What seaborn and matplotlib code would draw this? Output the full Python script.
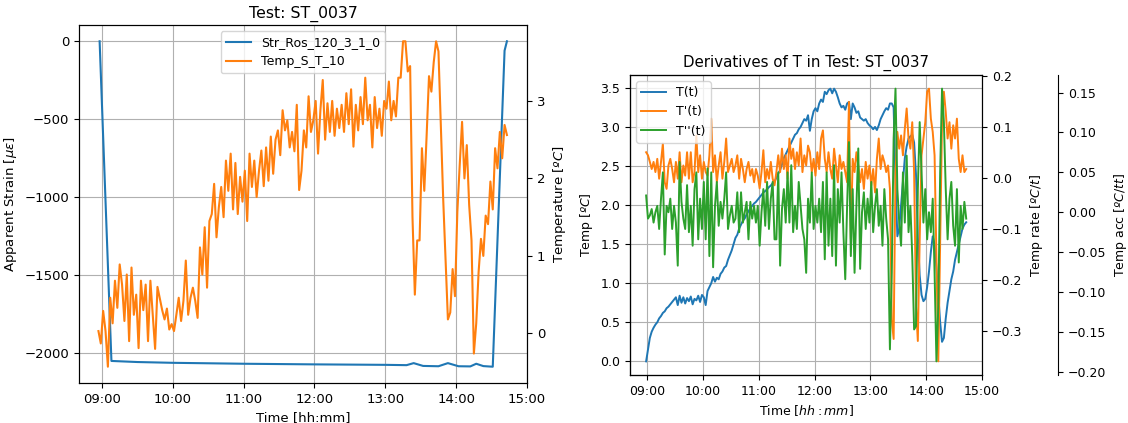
import numpy as np
import pandas as pd
import matplotlib
matplotlib.use("Agg")
import matplotlib.pyplot as plt
import matplotlib.dates as mdates
import seaborn as sns

DAY = "2021-06-01 "

# ---------------- Left chart data ----------------
temp_start = "08:57"          # 2-minute sampling
temp_s_t_10 = [
    0.03, -0.13, 0.29, 0.03, -0.43, 0.46, 0.13,
    0.68, 0.33, 0.89, 0.63, 0.16, 0.76, -0.10, 0.85, 0.24, 0.50,
    -0.19, 0.68, 0.30, 0.63, -0.10, 0.68, 0.24, -0.20, 0.60, 0.45, 0.30, 0.18, 0.32, 0.05, 0.12,
    0.03, 0.24, 0.46, 0.16, 0.42, 0.94, 0.24, 0.46, 0.59, 0.42, 0.20,
    1.11, 0.76, 1.37, 0.59, 1.45, 1.54, 1.93, 1.24, 1.63,
    1.89, 1.50, 2.23, 1.84, 2.32, 1.60, 2.20, 1.54, 2.02, 1.70,
    2.10, 1.45, 2.32, 1.89, 2.23, 1.76, 2.10, 2.36, 1.90, 2.40, 1.97, 2.54, 2.06, 2.50, 2.62, 2.30,
    2.88, 2.62, 2.75, 2.40, 2.60, 2.35, 2.95, 1.85, 2.10, 2.62, 2.40, 3.06, 2.60, 2.75,
    3.00, 2.32, 2.88, 3.27, 2.50, 2.97, 2.60, 3.00, 2.55, 2.90, 2.65, 2.95, 2.60, 3.10, 2.70, 3.15,
    2.41, 2.95, 2.62, 3.05, 2.70, 3.30, 2.75, 2.95, 2.40, 3.05, 2.65, 2.90, 2.55, 3.00,
    2.90, 3.25, 2.75, 3.00, 2.80, 3.30,
    3.30, 3.77, 3.77, 3.38, 3.45, 1.50, 0.50, 1.20, 1.20, 2.39,
    1.84, 2.56, 3.32, 3.12, 3.50, 3.77, 3.64, 2.69, 1.74, 0.96,
    0.18, 0.27, 0.83, 0.48, 1.57, 2.17, 2.73, 2.00, 2.43, 1.66,
    1.20, -0.26, 0.13, 0.79, 1.22, 1.00, 1.52, 1.41, 1.96, 1.60,
    2.39, 2.13, 2.60, 2.26, 2.69, 2.56,
]

strain_times = ["08:58", "09:08", "09:30", "10:00", "11:00", "12:00", "13:00",
                "13:18", "13:24", "13:32", "13:45", "13:53", "14:02", "14:12",
                "14:17", "14:23", "14:31", "14:41", "14:43"]
strain_values = [0, -2050, -2057, -2062, -2068, -2072, -2075,
                 -2077, -2064, -2082, -2084, -2064, -2084, -2085,
                 -2068, -2083, -2087, -60, 0]

# ---------------- Right chart data ----------------
deriv_start = "08:59"         # 2-minute sampling
T_values = [
    0.00, 0.15, 0.30, 0.38, 0.43, 0.47, 0.50, 0.55, 0.58, 0.62, 0.64, 0.68, 0.70, 0.73, 0.76, 0.79,
    0.82, 0.72, 0.84, 0.75, 0.82, 0.74, 0.81, 0.77, 0.83, 0.73, 0.80, 0.78, 0.84, 0.76, 0.85,
    0.82, 0.72, 0.90, 0.95, 1.00, 1.08, 1.02, 1.07, 1.05, 1.12, 1.15, 1.20, 1.22, 1.30, 1.36,
    1.42, 1.50, 1.58, 1.62, 1.70, 1.75, 1.80, 1.83, 1.88, 1.92, 1.96, 1.99, 2.02, 2.04, 2.07,
    2.10, 2.13, 2.16, 2.18, 2.20, 2.23, 2.25, 2.28, 2.30, 2.35, 2.40, 2.45, 2.52, 2.60, 2.65,
    2.70, 2.75, 2.80, 2.85, 2.90, 2.92, 2.97, 3.00, 3.05, 3.10, 3.08, 3.15, 2.95, 3.10, 3.20,
    3.24, 3.20, 3.30, 3.35, 3.32, 3.45, 3.42, 3.47, 3.49, 3.43, 3.49, 3.45, 3.38, 3.30, 3.25,
    3.27, 3.22, 3.30, 3.32, 3.10, 3.30, 3.25, 3.18, 3.20, 3.12, 3.10, 3.08, 3.10, 3.05, 3.02,
    3.00, 2.97, 3.00, 2.96, 3.02, 3.10, 3.15, 3.20, 3.24, 3.22, 3.30, 3.30,
    3.25, 2.30, 1.60, 1.70, 2.00, 2.30, 2.60, 2.75, 2.85, 2.88, 2.90, 2.80, 2.40, 1.60, 1.10, 0.85, 0.77, 0.80,
    0.95, 1.15, 1.40, 1.60, 1.50, 1.20, 0.85, 0.50, 0.25, 0.30, 0.55, 0.75, 0.90, 1.05, 1.15, 1.30,
    1.40, 1.50, 1.60, 1.70, 1.75, 1.78,
]
dT_values = [
    0.051, 0.045, 0.032, 0.018, 0.032, 0.012, 0.038, -0.001, 0.032, 0.068,
    -0.008, -0.021, 0.025, 0.038, 0.018, -0.008, 0.032, -0.001, 0.051, -0.008,
    0.025, 0.005, 0.051, -0.001, 0.051, -0.008, 0.012, 0.084, 0.012, 0.045,
    -0.001, 0.032, 0.012, 0.005, 0.045, 0.117, 0.012, 0.045, -0.008, 0.025,
    0.051, -0.001, 0.032, 0.078, 0.012, 0.025, 0.038, 0.012, 0.025, 0.045,
    -0.001, 0.038, 0.018, -0.008, 0.018, 0.032, 0.005, 0.018, -0.008, 0.018,
    0.005, -0.020, 0.012, 0.055, -0.008, 0.018, -0.001, 0.032, -0.001, -0.014,
    0.012, 0.045, 0.012, 0.058, 0.018, 0.045, -0.001, 0.078, 0.038, 0.058,
    0.018, 0.051, 0.025, 0.078, 0.012,
    0.045, 0.025, 0.064, 0.051, 0.012, 0.038, 0.005, 0.051, 0.018, 0.078,
    0.094, 0.038, 0.012, 0.051, 0.018, -0.001, 0.058, 0.025, -0.008, 0.045,
    0.018, 0.032, 0.012, -0.008, 0.150, -0.120, 0.038, 0.012, 0.051, 0.025,
    -0.008, 0.018, -0.021, 0.032, -0.001, 0.025, -0.014, 0.018, -0.028, 0.038,
    0.078, 0.018, 0.045, 0.032, 0.012, 0.025, -0.021, -0.278, -0.316, 0.012,
    0.091, 0.058, 0.084, 0.045, 0.097, 0.137, 0.078, 0.058, 0.110, 0.012,
    -0.250, -0.320, -0.120, 0.045, 0.078, 0.110, 0.170, 0.176, 0.117, 0.091,
    0.045, -0.153, -0.360, -0.120, 0.110, 0.170, 0.130, 0.078, 0.110, 0.058,
    0.104, 0.078, 0.117, 0.038, 0.012, 0.045, 0.012, 0.018,
]
ddT_values = [
    0.021, -0.008, -0.004, 0.004, -0.013, 0.000, 0.008, -0.021, 0.017, 0.050,
    -0.053, 0.008, 0.000, 0.017, -0.021, 0.008, -0.013, -0.067, 0.063, 0.013,
    -0.008, -0.021, 0.034, -0.025, 0.008, -0.042, 0.029, 0.050, -0.034, 0.017,
    -0.021, 0.038, -0.034, 0.055, -0.055, 0.050, -0.069, 0.008, 0.038, -0.017,
    0.013, -0.008, 0.017, 0.050, -0.021, -0.004, 0.008, -0.013, -0.008, 0.025,
    -0.025, 0.025, -0.013, 0.000, 0.013, -0.034, 0.013, -0.008, 0.008, -0.013,
    0.008, -0.042, 0.000, 0.029, -0.017, 0.038, -0.021, 0.017, 0.038, -0.034,
    -0.034, 0.050, -0.067, 0.004, 0.029, -0.013, 0.050, -0.013, 0.059, -0.025,
    0.008, -0.021, 0.038, 0.008, -0.021,
    -0.034, -0.076, 0.017, -0.013, 0.050, -0.021, 0.008, -0.013, 0.017, -0.025,
    0.038, -0.059, 0.050, -0.042, 0.017, -0.055, 0.059, -0.067, 0.029, -0.013,
    0.050, -0.025, -0.084, 0.008, 0.088, -0.055, 0.029, -0.076, 0.008, 0.080,
    -0.071, 0.000, 0.025, -0.021, 0.017, -0.013, 0.038, -0.025, 0.008, 0.029,
    -0.017, 0.008, -0.042, 0.029, -0.008, -0.034, -0.172, -0.076, 0.092, 0.155,
    0.029, -0.013, -0.042, 0.050, -0.013, 0.071, -0.025, 0.008, -0.055, -0.147,
    -0.143, 0.029, 0.113, 0.050, -0.013, 0.029, -0.034, 0.000, -0.025, 0.017,
    -0.076, -0.187, -0.118, 0.050, 0.155, 0.113, 0.029, -0.034, 0.017, 0.038,
    -0.017, -0.042, 0.029, -0.063, 0.008, -0.021, 0.013, -0.008,
]

BLUE, ORANGE, GREEN = "#1f77b4", "#ff7f0e", "#2ca02c"

temp_time = pd.date_range(DAY + temp_start, periods=len(temp_s_t_10), freq="2min")
strain_time = pd.to_datetime([DAY + t for t in strain_times])
n_d = min(len(T_values), len(dT_values), len(ddT_values))
deriv_time = pd.date_range(DAY + deriv_start, periods=n_d, freq="2min")


def draw(ax, times, vals, color, label, lw):
    df = pd.DataFrame({"t": times, "v": vals})
    sns.lineplot(data=df, x="t", y="v", ax=ax, color=color, linewidth=lw,
                 label=label, estimator=None, sort=False, legend=False)
    leg = ax.get_legend()
    if leg is not None:
        leg.remove()
    return ax.get_lines()[-1]


fig = plt.figure(figsize=(11.28, 4.23), dpi=100)

# ---------------- Left chart ----------------
fs = 9.5
ax1 = fig.add_axes([0.0700, 0.0946, 0.3972, 0.8463])
ax2 = ax1.twinx()
l1 = draw(ax1, strain_time, strain_values, BLUE, "Str_Ros_120_3_1_0", 1.5)
l2 = draw(ax2, temp_time, temp_s_t_10, ORANGE, "Temp_S_T_10", 1.5)
ax1.set_xlim(pd.Timestamp(DAY + "08:40:30"), pd.Timestamp(DAY + "15:00"))
ax1.xaxis.set_major_locator(mdates.HourLocator(interval=1))
ax1.xaxis.set_major_formatter(mdates.DateFormatter("%H:%M"))
ax1.grid(True, color="#b0b0b0", linewidth=0.8)
ax1.set_xlabel("Time [hh:mm]", fontsize=fs)
ax1.set_ylabel(r"Apparent Strain [$\mu\epsilon$]", fontsize=fs)
ax2.set_ylabel(r"Temperature [$ºC$]", fontsize=fs)
ax2.set_xlabel("")
ax1.set_title("Test: ST_0037", fontsize=11.3, pad=5)
for a in (ax1, ax2):
    a.tick_params(labelsize=fs)
ax2.legend([l1, l2], [l1.get_label(), l2.get_label()], loc="upper center", fontsize=9)

# ---------------- Right chart ----------------
fr = 9
bx1 = fig.add_axes([0.5585, 0.1135, 0.3121, 0.7092])
bx2 = bx1.twinx()
bx3 = bx1.twinx()
bx3.spines["right"].set_position(("axes", 1.216))
m1 = draw(bx1, deriv_time, T_values[:n_d], BLUE, "T(t)", 1.4)
m2 = draw(bx2, deriv_time, dT_values[:n_d], ORANGE, "T'(t)", 1.4)
m3 = draw(bx3, deriv_time, ddT_values[:n_d], GREEN, "T''(t)", 1.4)
bx1.set_xlim(pd.Timestamp(DAY + "08:41:40"), pd.Timestamp(DAY + "15:00"))
bx1.xaxis.set_major_locator(mdates.HourLocator(interval=1))
bx1.xaxis.set_major_formatter(mdates.DateFormatter("%H:%M"))
bx1.grid(True, color="#b0b0b0", linewidth=0.8)
bx1.set_xlabel(r"Time [$hh:mm$]", fontsize=fr)
bx1.set_ylabel(r"Temp [$ºC$]", fontsize=fr)
bx2.set_ylabel(r"Temp rate [$ºC/t$]", fontsize=fr)
bx3.set_ylabel(r"Temp acc [$ºC/tt$]", fontsize=fr)
for a in (bx2, bx3):
    a.set_xlabel("")
for a in (bx1, bx2, bx3):
    a.tick_params(labelsize=fr)
bx1.set_title("Derivatives of T in Test: ST_0037", fontsize=10.8, pad=6)
bx3.legend([m1, m2, m3], [m1.get_label(), m2.get_label(), m3.get_label()],
           loc="upper left", fontsize=fr)

fig.savefig("out.png", dpi=100)
